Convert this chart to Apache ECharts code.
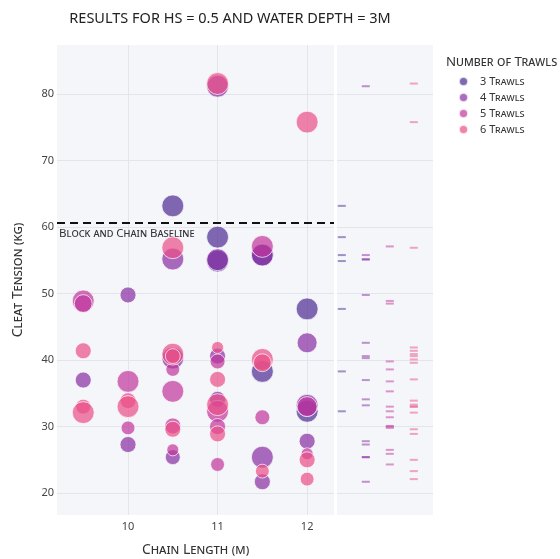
<!DOCTYPE html>
<html>
<head>
<meta charset="utf-8">
<script src="https://cdn.jsdelivr.net/npm/echarts@6/dist/echarts.min.js"></script>
<style>html,body{margin:0;padding:0;background:#fff;}#chart{width:560px;height:559px;}</style>
</head>
<body>
<div id="chart"></div>
<script>
const trawlLabels = ['3 Trawls', '4 Trawls', '5 Trawls', '6 Trawls'];
const trawlColors = ['rgb(75,41,145)', 'rgb(135,44,162)', 'rgb(192,54,157)', 'rgb(234,79,136)'];
const xTickValues = [10, 11, 12];
const baselineTension = 60.7;

const chain3 = [10.5, 11, 11.5, 11, 12, 11.5, 12];
const tension3 = [63.2, 58.5, 55.8, 54.9, 47.7, 38.3, 32.3];
const weight3 = [30, 30, 30, 30, 30, 30, 30];

const chain4 = [11, 11.5, 11, 10.5, 10, 12, 11, 10.5, 9.5, 11, 12, 12, 10, 10.5, 11.5, 11.5];
const tension4 = [81.2, 55.8, 55.1, 55.2, 49.8, 42.6, 40.6, 40.3, 37.0, 34.1, 33.2, 27.8, 27.3, 25.4, 25.4, 21.7];
const weight4 = [30, 30, 30, 30, 16, 25, 16, 30, 16, 16, 30, 16, 16, 14, 30, 16];

const chain5 = [11.5, 9.5, 9.5, 11, 10.5, 10, 10.5, 12, 11, 11.5, 10.5, 10, 11, 10.5, 12, 11];
const tension5 = [57.1, 48.9, 48.5, 39.8, 38.6, 36.8, 35.3, 33.0, 32.3, 31.4, 30.1, 29.8, 30.0, 26.5, 25.9, 24.3];
const weight5 = [30, 30, 20, 14, 12, 30, 30, 25, 30, 14, 16, 12, 16, 9, 9, 12];

const chain6 = [11, 12, 10.5, 11, 9.5, 10.5, 10.5, 11.5, 11.5, 11, 10, 11, 10, 9.5, 9.5, 10.5, 11, 12, 11.5, 12];
const tension6 = [81.6, 75.8, 56.9, 41.9, 41.4, 40.9, 40.6, 40.1, 39.6, 37.1, 33.9, 33.3, 33.0, 33.0, 32.1, 29.6, 28.9, 25.0, 23.3, 22.1];
const weight6 = [30, 30, 30, 9, 16, 30, 14, 30, 20, 16, 16, 30, 30, 14, 30, 16, 16, 16, 12, 12];

const chains = [chain3, chain4, chain5, chain6];
const tensions = [tension3, tension4, tension5, tension6];
const weights = [weight3, weight4, weight5, weight6];

const FONT = 'Noto Sans';
const SC = 'small-caps';
const Y_MIN = 16.7, Y_MAX = 87.4;

const series = [];
trawlLabels.forEach(function (name, g) {
  series.push({
    name: name,
    type: 'scatter',
    xAxisIndex: 0, yAxisIndex: 0,
    data: chains[g].map(function (c, i) { return [c, tensions[g][i], weights[g][i]]; }),
    symbolSize: function (v) { return 4 * Math.sqrt(v[2]); },
    itemStyle: { color: trawlColors[g], opacity: 0.7, borderColor: '#ffffff', borderWidth: 1 },
    emphasis: { disabled: true },
    z: 2 + g
  });
});
trawlLabels.forEach(function (name, g) {
  series.push({
    name: name,
    type: 'scatter',
    xAxisIndex: 1, yAxisIndex: 1,
    data: tensions[g].map(function (t) { return [g, t]; }),
    symbol: 'rect',
    symbolSize: [8, 2],
    itemStyle: { color: trawlColors[g], opacity: 0.5 },
    emphasis: { disabled: true },
    z: 2 + g
  });
});
series.push({
  name: 'baseline',
  type: 'scatter',
  xAxisIndex: 0, yAxisIndex: 0,
  data: [],
  markLine: {
    silent: true,
    symbol: ['none', 'none'],
    lineStyle: { color: '#111', width: 2, type: [8, 5] },
    label: {
      show: true, position: 'insideStartBottom', formatter: 'Block and Chain Baseline',
      color: '#333', fontSize: 11.5, fontFamily: FONT, fontStyle: SC, distance: [2, 5]
    },
    data: [{ yAxis: baselineTension }]
  },
  z: 10
});

const splitStyle = { show: true, showMinLine: false, showMaxLine: false, lineStyle: { color: '#e4e5ea', width: 1 } };

const option = {
  animation: false,
  backgroundColor: '#ffffff',
  title: [
    { text: 'RESULTS FOR HS = 0.5 AND WATER DEPTH = 3M', left: 225, top: 6, textAlign: 'center',
      textStyle: { fontFamily: FONT, fontSize: 14.5, fontWeight: 'normal', color: '#222' } },
    { text: 'Number of Trawls', left: 441, top: 51,
      textStyle: { fontFamily: FONT, fontSize: 13.3, fontWeight: 'normal', fontStyle: SC, color: '#333' } }
  ],
  legend: {
    data: trawlLabels,
    orient: 'vertical', left: 453, top: 71,
    icon: 'circle', itemWidth: 9, itemHeight: 9, itemGap: 5,
    textStyle: { fontFamily: FONT, fontSize: 11, fontStyle: SC, color: '#333', padding: [0, 0, 0, 7] }
  },
  grid: [
    { left: 57, top: 45, width: 277, height: 470, show: true, backgroundColor: '#f5f6f9', borderWidth: 0, outerBoundsMode: 'none', containLabel: false },
    { left: 337, top: 45, width: 96, height: 470, show: true, backgroundColor: '#f5f6f9', borderWidth: 0, outerBoundsMode: 'none', containLabel: false }
  ],
  xAxis: [
    { gridIndex: 0, type: 'value', min: 9.207, max: 12.30, splitNumber: 3,
      name: 'Chain Length (m)', nameLocation: 'middle', nameGap: 28,
      nameTextStyle: { fontFamily: FONT, fontSize: 14, fontStyle: SC, color: '#333' },
      axisLine: { show: false }, axisTick: { show: false },
      axisLabel: { showMinLabel: false, showMaxLabel: false, margin: 6, fontFamily: FONT, fontSize: 11, color: '#444',
        formatter: function (v) { return xTickValues.indexOf(Math.round(v * 100) / 100) >= 0 ? String(v) : ''; } },
      splitLine: splitStyle },
    { gridIndex: 1, type: 'value', min: -0.2, max: 3.8, show: false, splitLine: { show: false } }
  ],
  yAxis: [
    { gridIndex: 0, type: 'value', min: Y_MIN, max: Y_MAX, splitNumber: 7,
      name: 'Cleat Tension (kg)', nameLocation: 'middle', nameGap: 32,
      nameTextStyle: { fontFamily: FONT, fontSize: 14, fontStyle: SC, color: '#333' },
      axisLine: { show: false }, axisTick: { show: false },
      axisLabel: { showMinLabel: false, showMaxLabel: false, margin: 3, fontFamily: FONT, fontSize: 11, color: '#444' },
      splitLine: splitStyle },
    { gridIndex: 1, type: 'value', min: Y_MIN, max: Y_MAX, splitNumber: 7,
      axisLine: { show: false }, axisTick: { show: false }, axisLabel: { show: false },
      splitLine: splitStyle }
  ],
  series: series
};

const chart = echarts.init(document.getElementById('chart'));
chart.setOption(option);
</script>
</body>
</html>
